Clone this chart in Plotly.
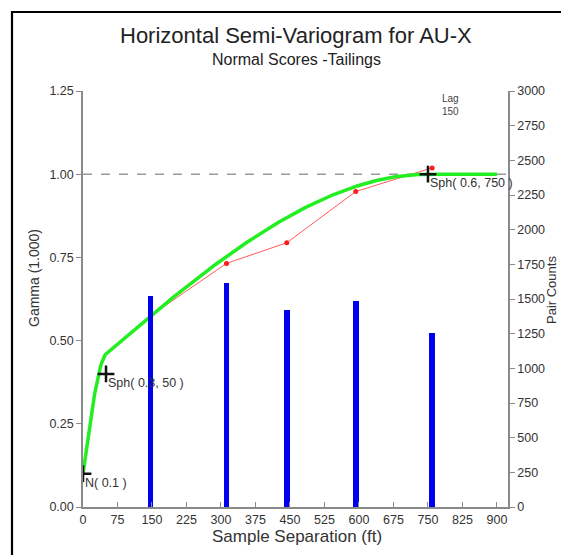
import numpy as np
import plotly.graph_objects as go

# Experimental semi-variogram (lag centres, gamma, pair counts)
lag_ft = [147, 312, 443, 593, 759]
gamma_exp = [0.575, 0.732, 0.794, 0.948, 1.019]
pair_counts = [1522, 1615, 1420, 1486, 1255]

# Fitted model: nugget + two spherical structures (sill contribution, range)
nugget = 0.1
sph_sills = [0.3, 0.6]
sph_ranges = [50, 750]
model_labels = ["N( 0.1 )", "Sph( 0.3, 50 )", "Sph( 0.6, 750 )"]

x_ticks = [0, 75, 150, 225, 300, 375, 450, 525, 600, 675, 750, 825, 900]
y_ticks = [0.0, 0.25, 0.5, 0.75, 1.0, 1.25]
y2_ticks = [0, 250, 500, 750, 1000, 1250, 1500, 1750, 2000, 2250, 2500, 2750, 3000]

FONT = "Liberation Sans, Arial, sans-serif"

# Plot-area geometry in pixels (used to place the free text)
PL, PR, PT, PB = 83, 508, 91, 507


def px_x(px):
    return (px - PL) / (PR - PL)


def px_y(py):
    return (PB - py) / (PB - PT)


def spherical_model(h):
    g = np.full_like(h, nugget, dtype=float)
    for c, a in zip(sph_sills, sph_ranges):
        r = np.minimum(h / a, 1.0)
        g += c * (1.5 * r - 0.5 * r ** 3)
    return g


h = np.linspace(0, 900, 451)
gamma_model = spherical_model(h)

# Cross marks at the cumulative sill reached by each structure
cross_x = [0] + sph_ranges
cross_y = list(np.cumsum([nugget] + sph_sills))

fig = go.Figure()

fig.add_trace(go.Bar(
    x=lag_ft, y=pair_counts, yaxis="y2", width=12,
    marker=dict(color="#0000ee", line=dict(width=0)),
    showlegend=False,
))

fig.add_trace(go.Scatter(
    x=lag_ft, y=gamma_exp, mode="lines+markers",
    line=dict(color="#ff5a5a", width=1),
    marker=dict(color="#ff1a1a", size=5),
    showlegend=False,
))

fig.add_trace(go.Scatter(
    x=h, y=gamma_model, mode="lines",
    line=dict(color="#22ee22", width=3.5),
    showlegend=False,
))

fig.add_trace(go.Scatter(
    x=cross_x, y=cross_y, mode="markers",
    marker=dict(symbol="cross-thin", size=12, line=dict(color="#111111", width=2.5)),
    showlegend=False,
))

annotations = []
for cx, cy, lab in zip(cross_x, cross_y, model_labels):
    annotations.append(dict(
        x=cx, y=cy, xref="x", yref="y", text=lab, showarrow=False,
        xanchor="left", yanchor="top", xshift=0, yshift=0,
        font=dict(family=FONT, size=12.5, color="#333333"),
    ))


def free_text(text, x_px, y_px, size, color="#333333", angle=0):
    return dict(text=text, x=px_x(x_px), y=px_y(y_px), xref="paper", yref="paper",
                xanchor="center", yanchor="middle", textangle=angle, showarrow=False,
                font=dict(family=FONT, size=size, color=color))


annotations += [
    free_text("Horizontal Semi-Variogram for AU-X", 296, 36, 22, "#222222"),
    free_text("Normal Scores -Tailings", 296, 60, 16, "#222222"),
    free_text("Lag<br>150", 450, 105, 10, "#444444"),
    free_text("Gamma (1.000)", 34, 278, 14, angle=-90),
    free_text("Pair Counts", 551, 290, 13, angle=-90),
    free_text("Sample Separation (ft)", 297, 536, 17),
]

axis_common = dict(
    showgrid=False, zeroline=False, showline=True, linecolor="#8a8a8a", linewidth=1.5,
    ticks="outside", ticklen=5, tickcolor="#8a8a8a", tickwidth=1,
    tickfont=dict(family=FONT, size=12.5, color="#333333"),
)

fig.update_layout(
    width=561, height=555,
    margin=dict(l=PL, r=561 - PR, t=PT, b=555 - PB),
    paper_bgcolor="white", plot_bgcolor="white",
    bargap=0,
    xaxis=dict(axis_common, range=[0, 924], tickvals=x_ticks, ticks="inside", ticklen=5),
    yaxis=dict(axis_common, range=[0, 1.25], tickvals=y_ticks, tickformat=".2f"),
    yaxis2=dict(axis_common, range=[0, 3000], tickvals=y2_ticks, overlaying="y", side="right"),
    annotations=annotations,
    shapes=[
        dict(type="line", xref="paper", yref="y", x0=0, x1=1, y0=1.0, y1=1.0,
             line=dict(color="#9a9a9a", width=1.6, dash="dash"), layer="below"),
        dict(type="rect", xref="paper", yref="paper",
             x0=px_x(12), x1=1.3, y0=-0.3, y1=px_y(12),
             line=dict(color="black", width=2.2), fillcolor="rgba(0,0,0,0)"),
    ],
)

fig.write_html("out.html")
